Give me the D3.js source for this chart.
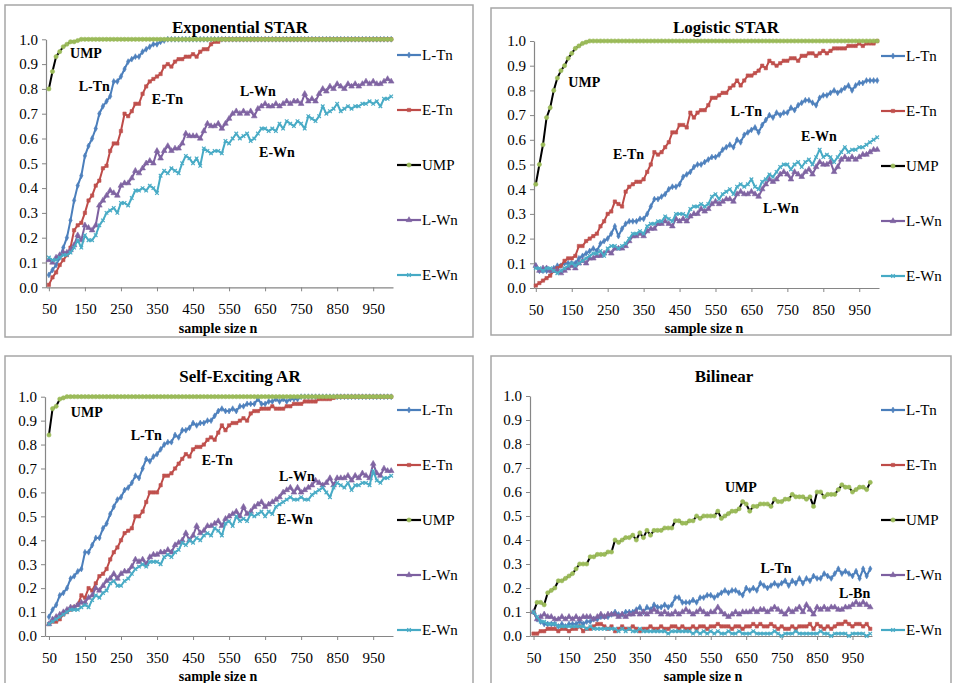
<!DOCTYPE html>
<html>
<head>
<meta charset="utf-8">
<title>Power curves</title>
<script src="https://cdn.jsdelivr.net/npm/d3@7"></script>
<style>
  body { margin: 0; background: #fff; }
  text { font-family: "Liberation Serif", "Times New Roman", serif; fill: #000; }
</style>
</head>
<body>
<script>
// x categories: sample size n
var sampleSizes = d3.range(50, 1001, 10);
var xTicks = [50, 150, 250, 350, 450, 550, 650, 750, 850, 950];
var yTicks = [0, 0.1, 0.2, 0.3, 0.4, 0.5, 0.6, 0.7, 0.8, 0.9, 1.0];
var seriesNames = ["L-Tn", "E-Tn", "UMP", "L-Wn", "E-Wn"];
var panelTitles = ["Exponential STAR", "Logistic STAR", "Self-Exciting AR", "Bilinear"];

// ---- Exponential STAR ----
var expLTn = [0.05,0.07,0.09,0.12,0.16,0.20,0.27,0.35,0.41,0.45,
  0.53,0.57,0.60,0.64,0.70,0.73,0.75,0.77,0.83,0.83,
  0.85,0.88,0.91,0.92,0.93,0.93,0.95,0.96,0.97,0.98,
  0.98,0.99,0.995,1,1,1,1,1,1,1,
  1,1,1,1,1,1,1,1,1,1,
  1,1,1,1,1,1,1,1,1,1,
  1,1,1,1,1,1,1,1,1,1,
  1,1,1,1,1,1,1,1,1,1,
  1,1,1,1,1,1,1,1,1,1,
  1,1,1,1,1,1];
var expETn = [0.01,0.04,0.06,0.09,0.11,0.13,0.16,0.23,0.25,0.26,
  0.30,0.35,0.37,0.41,0.43,0.48,0.49,0.55,0.58,0.58,
  0.63,0.70,0.69,0.71,0.74,0.74,0.78,0.81,0.83,0.84,
  0.85,0.86,0.89,0.90,0.89,0.91,0.92,0.92,0.93,0.93,
  0.94,0.93,0.95,0.96,0.96,0.98,0.99,0.99,1,1,
  1,1,1,1,1,1,1,1,1,1,
  1,1,1,1,1,1,1,1,1,1,
  1,1,1,1,1,1,1,1,1,1,
  1,1,1,1,1,1,1,1,1,1,
  1,1,1,1,1,1];
var expUMP = [0.80,0.87,0.93,0.95,0.97,0.98,0.99,0.99,0.995,1,
  1,1,1,1,1,1,1,1,1,1,
  1,1,1,1,1,1,1,1,1,1,
  1,1,1,1,1,1,1,1,1,1,
  1,1,1,1,1,1,1,1,1,1,
  1,1,1,1,1,1,1,1,1,1,
  1,1,1,1,1,1,1,1,1,1,
  1,1,1,1,1,1,1,1,1,1,
  1,1,1,1,1,1,1,1,1,1,
  1,1,1,1,1,1];
var expLWn = [0.11,0.10,0.12,0.13,0.14,0.14,0.15,0.17,0.21,0.19,
  0.25,0.24,0.23,0.25,0.33,0.35,0.37,0.39,0.38,0.37,
  0.41,0.42,0.42,0.44,0.47,0.46,0.48,0.50,0.51,0.50,
  0.55,0.52,0.55,0.57,0.55,0.56,0.56,0.58,0.62,0.61,
  0.61,0.61,0.60,0.63,0.66,0.65,0.65,0.66,0.64,0.66,
  0.68,0.70,0.71,0.70,0.71,0.70,0.71,0.69,0.72,0.73,
  0.74,0.73,0.73,0.74,0.73,0.74,0.75,0.74,0.75,0.75,
  0.74,0.78,0.75,0.76,0.75,0.78,0.80,0.79,0.81,0.80,
  0.82,0.81,0.80,0.82,0.81,0.82,0.81,0.82,0.83,0.82,
  0.83,0.82,0.82,0.83,0.84,0.83];
var expEWn = [0.12,0.11,0.11,0.12,0.13,0.13,0.14,0.16,0.19,0.16,
  0.21,0.19,0.19,0.21,0.25,0.27,0.30,0.31,0.32,0.30,
  0.34,0.34,0.33,0.36,0.39,0.39,0.40,0.39,0.41,0.40,
  0.38,0.45,0.47,0.46,0.48,0.47,0.46,0.50,0.53,0.52,
  0.50,0.52,0.49,0.56,0.55,0.54,0.55,0.55,0.54,0.59,
  0.58,0.60,0.62,0.60,0.61,0.62,0.59,0.60,0.62,0.64,
  0.64,0.63,0.64,0.63,0.66,0.64,0.67,0.66,0.65,0.67,
  0.66,0.64,0.69,0.68,0.67,0.69,0.73,0.70,0.71,0.72,
  0.74,0.71,0.72,0.73,0.72,0.73,0.73,0.74,0.74,0.75,
  0.74,0.75,0.73,0.76,0.76,0.77];

// ---- Logistic STAR ----
var logLTn = [0.09,0.07,0.07,0.07,0.07,0.08,0.09,0.09,0.10,0.10,
  0.10,0.10,0.12,0.13,0.14,0.15,0.16,0.15,0.18,0.19,
  0.20,0.22,0.25,0.21,0.24,0.26,0.27,0.27,0.27,0.28,
  0.28,0.30,0.33,0.36,0.36,0.37,0.38,0.40,0.41,0.41,
  0.42,0.45,0.46,0.47,0.49,0.50,0.50,0.51,0.52,0.53,
  0.53,0.54,0.56,0.57,0.58,0.57,0.60,0.59,0.62,0.63,
  0.64,0.65,0.63,0.66,0.68,0.70,0.69,0.71,0.70,0.71,
  0.71,0.73,0.72,0.74,0.75,0.76,0.76,0.75,0.74,0.77,
  0.78,0.78,0.79,0.80,0.79,0.80,0.81,0.82,0.80,0.82,
  0.83,0.83,0.84,0.84,0.84,0.84];
var logETn = [0.01,0.02,0.03,0.04,0.05,0.07,0.08,0.09,0.11,0.12,
  0.12,0.13,0.17,0.17,0.19,0.20,0.21,0.22,0.25,0.27,
  0.30,0.31,0.35,0.34,0.33,0.39,0.41,0.42,0.43,0.43,
  0.44,0.47,0.50,0.55,0.54,0.55,0.57,0.59,0.63,0.63,
  0.66,0.66,0.65,0.71,0.69,0.71,0.72,0.72,0.74,0.77,
  0.77,0.78,0.79,0.79,0.81,0.82,0.84,0.82,0.84,0.86,
  0.86,0.87,0.88,0.90,0.89,0.92,0.91,0.90,0.91,0.92,
  0.92,0.93,0.93,0.92,0.94,0.94,0.95,0.95,0.94,0.95,
  0.96,0.95,0.96,0.97,0.97,0.97,0.97,0.98,0.98,0.98,
  0.99,0.98,0.99,0.99,0.99,1.0];
var logUMP = [0.42,0.50,0.58,0.69,0.73,0.80,0.85,0.88,0.90,0.93,
  0.95,0.97,0.98,0.99,0.995,1,1,1,1,1,
  1,1,1,1,1,1,1,1,1,1,
  1,1,1,1,1,1,1,1,1,1,
  1,1,1,1,1,1,1,1,1,1,
  1,1,1,1,1,1,1,1,1,1,
  1,1,1,1,1,1,1,1,1,1,
  1,1,1,1,1,1,1,1,1,1,
  1,1,1,1,1,1,1,1,1,1,
  1,1,1,1,1,1];
var logLWn = [0.09,0.07,0.08,0.08,0.07,0.07,0.07,0.06,0.07,0.08,
  0.09,0.08,0.10,0.11,0.10,0.12,0.12,0.13,0.13,0.14,
  0.15,0.14,0.16,0.16,0.16,0.17,0.19,0.21,0.21,0.22,
  0.21,0.23,0.24,0.24,0.26,0.26,0.27,0.26,0.25,0.28,
  0.27,0.28,0.27,0.29,0.30,0.30,0.32,0.31,0.32,0.34,
  0.35,0.34,0.35,0.36,0.36,0.35,0.38,0.39,0.38,0.38,
  0.39,0.38,0.37,0.40,0.42,0.44,0.43,0.44,0.46,0.47,
  0.46,0.44,0.47,0.46,0.45,0.47,0.48,0.46,0.49,0.51,
  0.50,0.50,0.51,0.47,0.49,0.52,0.53,0.52,0.53,0.52,
  0.53,0.54,0.54,0.55,0.56,0.56];
var logEWn = [0.08,0.08,0.07,0.08,0.08,0.07,0.06,0.07,0.08,0.09,
  0.10,0.09,0.10,0.11,0.12,0.13,0.14,0.14,0.15,0.13,
  0.16,0.17,0.17,0.16,0.17,0.18,0.20,0.22,0.22,0.23,
  0.22,0.25,0.26,0.26,0.27,0.27,0.29,0.28,0.27,0.30,
  0.30,0.30,0.29,0.32,0.33,0.33,0.34,0.33,0.34,0.37,
  0.38,0.36,0.38,0.39,0.40,0.38,0.41,0.42,0.41,0.42,
  0.44,0.41,0.40,0.43,0.44,0.46,0.45,0.47,0.49,0.50,
  0.50,0.48,0.50,0.51,0.49,0.51,0.52,0.50,0.53,0.56,
  0.53,0.54,0.53,0.51,0.53,0.55,0.57,0.55,0.56,0.56,
  0.57,0.57,0.58,0.59,0.60,0.61];

// ---- Self-Exciting AR ----
var searLTn = [0.08,0.11,0.13,0.17,0.18,0.20,0.24,0.25,0.27,0.28,
  0.35,0.35,0.38,0.41,0.41,0.45,0.47,0.51,0.54,0.57,
  0.58,0.61,0.62,0.64,0.67,0.66,0.70,0.74,0.73,0.75,
  0.76,0.78,0.80,0.81,0.81,0.84,0.83,0.86,0.86,0.87,
  0.89,0.88,0.89,0.89,0.90,0.90,0.92,0.94,0.95,0.94,
  0.94,0.95,0.94,0.96,0.96,0.97,0.97,0.97,0.99,0.97,
  0.97,0.98,0.98,0.99,0.98,0.99,0.98,0.99,0.99,0.99,
  1,1,1,1,1,1,1,1,1,1,
  1,1,1,1,1,1,1,1,1,1,
  1,1,1,1,1,1];
var searETn = [0.05,0.06,0.06,0.07,0.09,0.10,0.11,0.12,0.13,0.17,
  0.16,0.20,0.19,0.22,0.25,0.26,0.28,0.32,0.35,0.37,
  0.40,0.43,0.44,0.45,0.50,0.50,0.52,0.56,0.60,0.60,
  0.60,0.63,0.67,0.67,0.68,0.70,0.72,0.74,0.76,0.75,
  0.78,0.79,0.79,0.80,0.82,0.83,0.82,0.85,0.88,0.86,
  0.88,0.89,0.89,0.90,0.91,0.90,0.93,0.94,0.94,0.95,
  0.95,0.95,0.96,0.95,0.95,0.95,0.96,0.96,0.97,0.97,
  0.97,0.98,0.98,0.98,0.98,0.99,0.99,0.99,0.99,0.995,
  1,1,1,1,1,1,1,1,1,1,
  1,1,1,1,1,1];
var searUMP = [0.84,0.95,0.96,0.99,0.995,1,1,1,1,1,
  1,1,1,1,1,1,1,1,1,1,
  1,1,1,1,1,1,1,1,1,1,
  1,1,1,1,1,1,1,1,1,1,
  1,1,1,1,1,1,1,1,1,1,
  1,1,1,1,1,1,1,1,1,1,
  1,1,1,1,1,1,1,1,1,1,
  1,1,1,1,1,1,1,1,1,1,
  1,1,1,1,1,1,1,1,1,1,
  1,1,1,1,1,1];
var searLWn = [0.05,0.07,0.08,0.09,0.10,0.11,0.12,0.12,0.13,0.14,
  0.14,0.16,0.17,0.20,0.19,0.21,0.23,0.24,0.26,0.24,
  0.26,0.27,0.27,0.29,0.32,0.31,0.32,0.30,0.33,0.34,
  0.34,0.35,0.35,0.36,0.35,0.38,0.39,0.40,0.43,0.40,
  0.42,0.46,0.43,0.44,0.46,0.46,0.47,0.48,0.46,0.49,
  0.50,0.51,0.52,0.50,0.54,0.51,0.52,0.54,0.55,0.56,
  0.54,0.55,0.56,0.57,0.58,0.60,0.61,0.62,0.60,0.62,
  0.60,0.61,0.62,0.63,0.65,0.64,0.63,0.64,0.66,0.63,
  0.66,0.66,0.66,0.67,0.65,0.67,0.66,0.68,0.67,0.66,
  0.72,0.68,0.67,0.70,0.69,0.69];
var searEWn = [0.05,0.06,0.07,0.08,0.09,0.10,0.11,0.11,0.11,0.12,
  0.13,0.12,0.15,0.17,0.16,0.18,0.19,0.22,0.23,0.21,
  0.21,0.23,0.24,0.26,0.28,0.29,0.30,0.29,0.31,0.31,
  0.31,0.30,0.33,0.34,0.33,0.35,0.36,0.39,0.38,0.40,
  0.39,0.41,0.40,0.42,0.43,0.42,0.45,0.44,0.42,0.47,
  0.48,0.46,0.50,0.48,0.49,0.48,0.51,0.50,0.51,0.52,
  0.50,0.52,0.51,0.54,0.55,0.56,0.57,0.58,0.57,0.57,
  0.58,0.57,0.57,0.59,0.60,0.61,0.62,0.60,0.58,0.62,
  0.64,0.63,0.62,0.64,0.61,0.63,0.63,0.64,0.64,0.63,
  0.69,0.65,0.64,0.66,0.66,0.67];

// ---- Bilinear ----
var bilLTn = [0.10,0.07,0.06,0.05,0.05,0.05,0.05,0.04,0.05,0.04,
  0.05,0.05,0.05,0.06,0.05,0.06,0.06,0.07,0.07,0.08,
  0.08,0.08,0.09,0.10,0.09,0.09,0.10,0.10,0.10,0.11,
  0.12,0.10,0.12,0.11,0.13,0.12,0.12,0.13,0.12,0.13,
  0.16,0.16,0.14,0.14,0.14,0.15,0.14,0.16,0.16,0.17,
  0.17,0.16,0.17,0.18,0.19,0.18,0.19,0.19,0.18,0.17,
  0.20,0.19,0.20,0.19,0.22,0.21,0.20,0.21,0.22,0.21,
  0.22,0.23,0.21,0.23,0.22,0.24,0.22,0.24,0.23,0.25,
  0.24,0.24,0.26,0.25,0.24,0.26,0.28,0.26,0.27,0.26,
  0.25,0.27,0.24,0.28,0.25,0.28];
var bilETn = [0.01,0.01,0.02,0.02,0.03,0.03,0.03,0.02,0.03,0.03,
  0.02,0.03,0.03,0.04,0.02,0.03,0.03,0.04,0.05,0.05,
  0.04,0.03,0.04,0.02,0.03,0.04,0.03,0.03,0.04,0.03,
  0.02,0.03,0.03,0.04,0.03,0.03,0.04,0.03,0.03,0.04,
  0.04,0.03,0.04,0.03,0.03,0.04,0.03,0.04,0.04,0.03,
  0.04,0.04,0.05,0.04,0.04,0.04,0.03,0.04,0.04,0.03,
  0.04,0.04,0.05,0.04,0.05,0.04,0.04,0.05,0.04,0.03,
  0.04,0.03,0.03,0.04,0.03,0.04,0.04,0.04,0.05,0.03,
  0.05,0.04,0.03,0.04,0.03,0.04,0.05,0.05,0.06,0.05,
  0.04,0.05,0.05,0.04,0.05,0.03];
var bilUMP = [0.10,0.14,0.14,0.13,0.18,0.19,0.20,0.23,0.23,0.24,
  0.25,0.26,0.28,0.30,0.30,0.30,0.33,0.33,0.34,0.34,
  0.34,0.35,0.35,0.40,0.39,0.40,0.41,0.41,0.42,0.40,
  0.43,0.41,0.44,0.42,0.44,0.44,0.44,0.45,0.45,0.45,
  0.48,0.48,0.47,0.47,0.48,0.48,0.50,0.49,0.50,0.50,
  0.50,0.50,0.52,0.49,0.50,0.51,0.52,0.52,0.53,0.56,
  0.55,0.52,0.54,0.54,0.55,0.55,0.55,0.54,0.57,0.56,
  0.56,0.57,0.57,0.59,0.58,0.58,0.58,0.57,0.58,0.54,
  0.60,0.60,0.58,0.59,0.59,0.59,0.61,0.63,0.62,0.62,
  0.60,0.61,0.62,0.62,0.61,0.64];
var bilLWn = [0.10,0.07,0.08,0.09,0.08,0.08,0.07,0.07,0.08,0.07,
  0.08,0.07,0.08,0.07,0.08,0.08,0.08,0.07,0.08,0.09,
  0.08,0.09,0.09,0.09,0.08,0.09,0.08,0.09,0.09,0.10,
  0.09,0.10,0.09,0.10,0.11,0.10,0.09,0.10,0.09,0.09,
  0.10,0.09,0.10,0.11,0.10,0.09,0.10,0.11,0.10,0.09,
  0.10,0.10,0.12,0.10,0.09,0.08,0.09,0.10,0.09,0.10,
  0.10,0.10,0.11,0.10,0.11,0.11,0.10,0.11,0.12,0.11,
  0.10,0.09,0.11,0.10,0.11,0.12,0.10,0.13,0.11,0.09,
  0.12,0.11,0.12,0.11,0.12,0.12,0.11,0.11,0.12,0.12,
  0.13,0.14,0.13,0.14,0.13,0.12];
var bilEWn = [0.10,0.08,0.06,0.06,0.05,0.05,0.05,0.04,0.04,0.04,
  0.04,0.04,0.04,0.04,0.04,0.03,0.04,0.03,0.03,0.03,
  0.03,0.03,0.03,0.03,0.02,0.03,0.02,0.03,0.02,0.02,
  0.03,0.02,0.02,0.02,0.02,0.02,0.02,0.02,0.01,0.02,
  0.02,0.02,0.02,0.02,0.02,0.01,0.02,0.01,0.02,0.01,
  0.02,0.01,0.02,0.01,0.01,0.02,0.01,0.01,0.02,0.01,
  0.01,0.01,0.02,0.01,0.01,0.01,0.01,0.01,0.02,0.01,
  0.00,0.01,0.01,0.01,0.02,0.01,0.01,0.01,0.01,0.01,
  0.01,0.02,0.01,0.01,0.00,0.01,0.01,0.01,0.01,0.00,
  0.01,0.01,0.01,0.01,0.00,0.01];

var panelSeries = [
  [expLTn, expETn, expUMP, expLWn, expEWn],
  [logLTn, logETn, logUMP, logLWn, logEWn],
  [searLTn, searETn, searUMP, searLWn, searEWn],
  [bilLTn, bilETn, bilUMP, bilLWn, bilEWn]
];

// in-plot labels: text, n, power
var panelLabels = [
  [["UMP", 153, 0.945], ["L-Tn", 176, 0.81], ["E-Tn", 379, 0.76], ["L-Wn", 630, 0.79], ["E-Wn", 683, 0.545]],
  [["UMP", 185, 0.835], ["L-Tn", 636, 0.717], ["E-Tn", 308, 0.543], ["E-Wn", 838, 0.615], ["L-Wn", 732, 0.325]],
  [["UMP", 155, 0.936], ["L-Tn", 320, 0.838], ["E-Tn", 517, 0.733], ["L-Wn", 738, 0.667], ["E-Wn", 733, 0.488]],
  [["UMP", 635, 0.622], ["L-Tn", 734, 0.285], ["L-Bn", 956, 0.178]]
];

// layout of the four panels
var frames = [
  {bx: 5, by: 5, bw: 468, bh: 332, xStart: 42, axisX: 46, axisRight: 393, yTop: 39.3, yBottom: 287.3, legendX: 397, legendTop: 55, titleX: 240, titleY: 27, xlabX: 218, xlabY: 328},
  {bx: 491, by: 8, bw: 460, bh: 327, xStart: 45, axisX: 534, axisRight: 879, yTop: 41, yBottom: 288, legendX: 881, legendTop: 56, titleX: 726, titleY: 27, xlabX: 704, xlabY: 328},
  {bx: 5, by: 356, bw: 468, bh: 335, xStart: 39, axisX: 45, axisRight: 393, yTop: 396.7, yBottom: 636, legendX: 397, legendTop: 410, titleX: 240, titleY: 376, xlabX: 218, xlabY: 676},
  {bx: 491, by: 356, bw: 460, bh: 335, xStart: 40, axisX: 530, axisRight: 872, yTop: 396, yBottom: 636, legendX: 881, legendTop: 410, titleX: 724, titleY: 376, xlabX: 703, xlabY: 676}
];

var lineColors = ["#4a7ebb", "#be4b48", "#000000", "#7d60a0", "#46aac5"];
var markerColors = ["#4f81bd", "#c0504d", "#9bbb59", "#8064a2", "#4bacc6"];
var markerTypes = [d3.symbolDiamond, d3.symbolSquare, d3.symbolCircle, d3.symbolTriangle, d3.symbolTimes || d3.symbolCross];
var markerSizes = [10, 11, 14, 14, 10];

panelSeries.forEach(function (list) {
  list.forEach(function (s) {
    if (s.length !== sampleSizes.length) throw new Error("series length " + s.length);
  });
});

var svg = d3.select("body").append("svg").attr("width", 953).attr("height", 683);
svg.append("rect").attr("width", 953).attr("height", 683).attr("fill", "#fff");

function drawMarker(sel, i, px, py) {
  var sym = d3.symbol().type(markerTypes[i]).size(markerSizes[i]);
  var m = sel.append("path").attr("d", sym()).attr("transform", "translate(" + px + "," + py + ")");
  if (i === 4) {
    m.attr("fill", "none").attr("stroke", markerColors[i]).attr("stroke-width", 1.2);
  } else {
    m.attr("fill", markerColors[i]).attr("stroke", markerColors[i]).attr("stroke-width", 0.6);
  }
}

frames.forEach(function (f, p) {
  var g = svg.append("g");

  g.append("rect")
    .attr("x", f.bx).attr("y", f.by).attr("width", f.bw).attr("height", f.bh)
    .attr("fill", "#fff").attr("stroke", "#a6a6a6").attr("stroke-width", 1.5);

  var x = d3.scaleLinear().domain([f.xStart, 1005]).range([f.axisX, f.axisRight]);
  var y = d3.scaleLinear().domain([0, 1]).range([f.yBottom, f.yTop]);

  var yAxis = g.append("g")
    .attr("transform", "translate(" + f.axisX + ",0)")
    .call(d3.axisLeft(y).tickValues(yTicks).tickFormat(d3.format(".1f"))
      .tickSize(4).tickSizeOuter(0).tickPadding(4));
  var xAxis = g.append("g")
    .attr("transform", "translate(0," + f.yBottom + ")")
    .call(d3.axisBottom(x).tickValues(xTicks).tickFormat(d3.format("d"))
      .tickSize(4).tickSizeOuter(0).tickPadding(12));
  [yAxis, xAxis].forEach(function (a) {
    a.select(".domain").attr("stroke", "#868686").attr("stroke-width", 1.2);
    a.selectAll(".tick line").attr("stroke", "#868686");
    a.selectAll("text").attr("font-size", 15).attr("font-family", "Liberation Serif, serif").attr("fill", "#000");
  });

  var line = d3.line()
    .x(function (d, i) { return x(sampleSizes[i]); })
    .y(function (d) { return y(d); });

  panelSeries[p].forEach(function (vals, i) {
    var sg = g.append("g");
    sg.append("path").datum(vals)
      .attr("d", line)
      .attr("fill", "none")
      .attr("stroke", lineColors[i])
      .attr("stroke-width", 2)
      .attr("stroke-linejoin", "round");
    vals.forEach(function (v, k) {
      drawMarker(sg, i, x(sampleSizes[k]), y(v));
    });
  });

  // legend
  seriesNames.forEach(function (name, i) {
    var ly = f.legendTop + i * 55;
    g.append("line")
      .attr("x1", f.legendX).attr("x2", f.legendX + 24)
      .attr("y1", ly).attr("y2", ly)
      .attr("stroke", lineColors[i]).attr("stroke-width", 2.2);
    drawMarker(g, i, f.legendX + 12, ly);
    g.append("text")
      .attr("x", f.legendX + 25).attr("y", ly).attr("dy", "0.35em")
      .attr("font-size", 15)
      .text(name);
  });

  // titles
  g.append("text")
    .attr("x", f.titleX).attr("y", f.titleY).attr("dy", "0.35em")
    .attr("text-anchor", "middle").attr("font-size", 17).attr("font-weight", "bold")
    .text(panelTitles[p]);
  g.append("text")
    .attr("x", f.xlabX).attr("y", f.xlabY).attr("dy", "0.35em")
    .attr("text-anchor", "middle").attr("font-size", 14).attr("font-weight", "bold")
    .text("sample size n");

  // labels inside the plot
  panelLabels[p].forEach(function (d) {
    g.append("text")
      .attr("x", x(d[1])).attr("y", y(d[2])).attr("dy", "0.35em")
      .attr("text-anchor", "middle").attr("font-size", 14).attr("font-weight", "bold")
      .text(d[0]);
  });
});
</script>
</body>
</html>
